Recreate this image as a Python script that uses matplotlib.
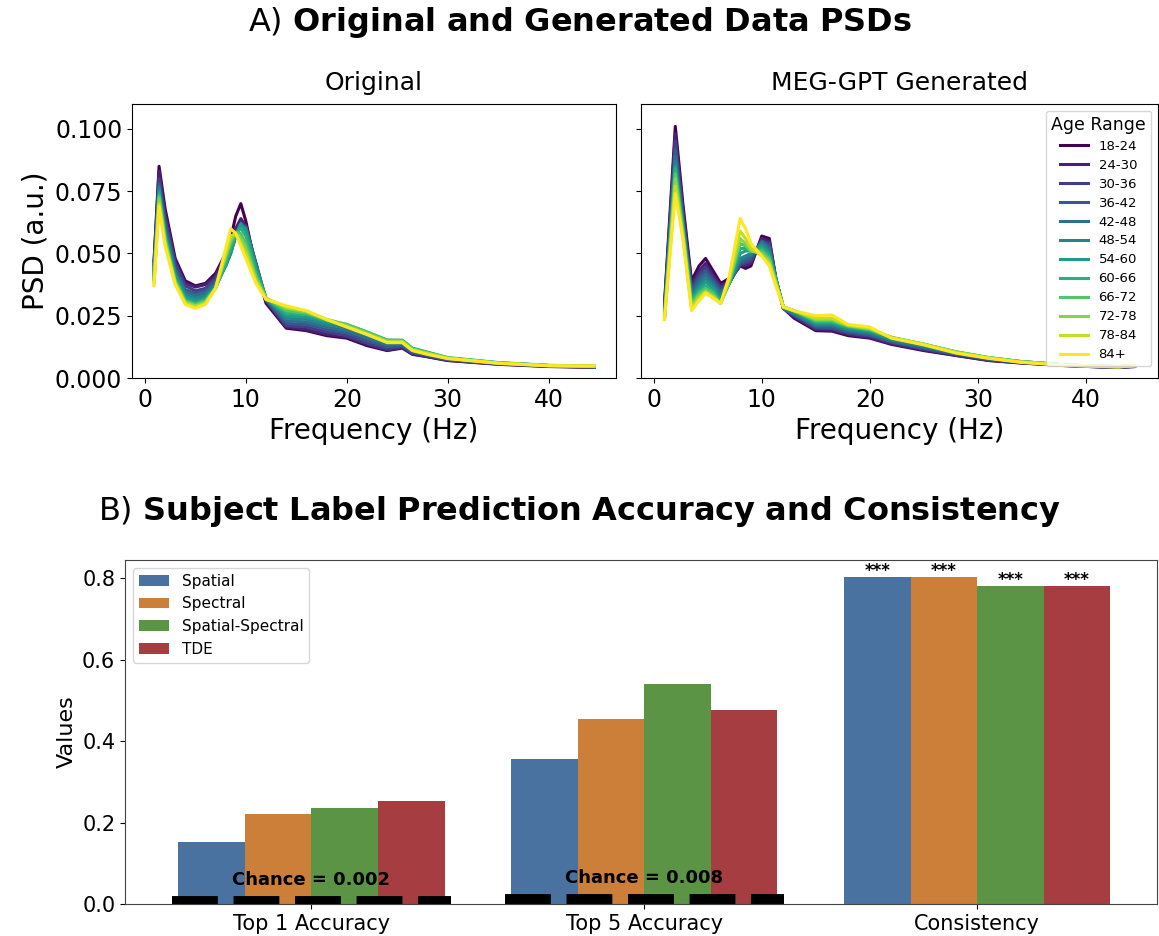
import numpy as np
import matplotlib
matplotlib.use("Agg")
import matplotlib.pyplot as plt

# ---- panel A data (PSD values in units of 1e-3) ----
ages = ["18-24", "24-30", "30-36", "36-42", "42-48", "48-54",
        "54-60", "60-66", "66-72", "72-78", "78-84", "84+"]

freq_orig = [0.9, 1.4, 2, 3, 4, 5, 6, 7, 8, 8.5, 9, 9.5, 10, 11, 12, 14,
             16, 18, 20, 22, 24, 25.5, 26.5, 28, 30, 35, 40, 44.5]

psd_orig = [
    [47, 85, 68, 48, 39, 37, 38, 42, 50, 56, 65, 70, 63, 44, 30, 20, 19, 17, 16, 13, 11, 12, 9.5, 8.5, 7, 5.5, 4.6, 4.3],
    [46, 83, 66, 47, 38, 36.5, 37.5, 41, 49, 54, 60, 64, 61, 45, 31, 20.5, 19.5, 17.5, 16.5, 13.5, 11.2, 12.2, 9.7, 8.6, 7.1, 5.6, 4.7, 4.3],
    [45, 80, 64, 46, 37, 35, 36, 40, 47, 52, 58, 62, 61, 46, 31, 21, 20.5, 18.5, 17, 14, 11.8, 12.6, 10, 8.8, 7.3, 5.7, 4.8, 4.4],
    [44, 78, 62, 44, 35.5, 34, 35, 39, 46, 51, 57, 61, 60.5, 46, 31.5, 22, 21.5, 19.5, 18, 15, 12.5, 13, 10.3, 9, 7.4, 5.8, 4.8, 4.4],
    [43, 77, 60, 43, 34.5, 33, 34, 38, 45, 50, 57, 61, 60, 46, 31.5, 23, 22.5, 20.5, 19, 16, 13.3, 13.5, 10.8, 9.4, 7.6, 5.9, 4.9, 4.5],
    [42, 76, 59, 42, 33.5, 32, 33, 37, 45, 50, 57, 61.5, 60, 45, 32, 24, 23.5, 21.5, 20, 17, 14, 14, 11.3, 9.8, 7.8, 6, 5, 4.6],
    [41, 75, 58, 41, 32.5, 31, 32, 36.5, 45, 51, 57.5, 62, 59, 44, 32, 25, 24.5, 22.5, 21, 18, 15, 15, 11.8, 10.2, 8, 6.1, 5, 4.6],
    [40, 74, 57, 40, 31.5, 30, 31.5, 36, 46, 52, 58, 60, 57, 43, 32, 26, 25.5, 23, 21.5, 18.5, 15.3, 15.2, 12, 10.4, 8.2, 6.2, 5.1, 4.7],
    [39.5, 73, 56, 39, 31, 29.5, 31, 36, 48, 54, 58.5, 58, 54, 41, 32, 27, 26, 23.5, 21.5, 18.5, 15, 15, 11.8, 10.2, 8.1, 6.1, 5, 4.7],
    [39, 72, 55, 38.5, 30.5, 29, 30.5, 36, 49, 55.5, 58, 56, 52, 40, 32, 28, 26.5, 23.5, 21, 18, 14.8, 14.7, 11.5, 10, 8, 6, 5, 4.7],
    [38, 70, 54, 38, 30, 28.5, 30, 36, 50, 57, 58, 54, 50, 39, 32, 28.5, 27, 23.5, 20.5, 17.5, 14.5, 14.5, 11.2, 9.7, 7.9, 6, 5, 4.8],
    [37, 69, 53, 37.5, 29.5, 28, 29.5, 36, 52, 60, 58, 53, 48, 38, 31.5, 29, 27, 23.5, 20.5, 17.5, 14.2, 14.2, 11, 9.5, 7.8, 5.9, 4.9, 4.8],
]

freq_gen = [1, 2, 2.7, 3.5, 4.2, 4.8, 5.5, 6.2, 7, 8, 8.5, 9, 10, 10.7, 11.3,
            12, 13, 15, 16.5, 18, 20, 22, 25, 28, 31, 34, 38, 41, 43, 44.5]

psd_gen = [
    [30, 101, 70, 39, 45, 48, 43, 38, 40, 45, 44, 45, 57, 56, 40, 28, 24, 19, 18.8, 17, 16, 13.5, 11, 9, 7, 6, 5, 4.5, 4.2, 4.6],
    [29, 98, 68, 37.5, 43, 46, 41.5, 37, 39, 45, 45, 46, 56, 55, 40, 28, 24.5, 19.5, 19.2, 17.5, 16.3, 13.8, 11.3, 9.1, 7.1, 6.1, 5, 4.5, 4.3, 4.6],
    [28, 95, 66, 36, 41.5, 44.5, 40, 36, 38.5, 45.5, 46, 47, 55, 54, 40, 28, 25, 20, 19.8, 18, 16.8, 14.2, 11.6, 9.3, 7.3, 6.2, 5.1, 4.6, 4.4, 4.7],
    [27, 92, 64, 35, 40, 43, 39, 35, 38, 46, 47, 48, 55, 53, 40, 28, 25.5, 20.5, 20.3, 18.5, 17.3, 14.6, 12, 9.6, 7.5, 6.3, 5.1, 4.6, 4.4, 4.7],
    [26, 89, 63, 34, 38.5, 41.5, 38, 34, 38, 47, 48, 49, 54.5, 52, 40, 28, 25.5, 21, 21, 19, 17.8, 15, 12.4, 9.8, 7.7, 6.4, 5.2, 4.7, 4.5, 4.8],
    [25.5, 87, 62, 33, 37, 40, 37, 33, 38, 48, 49, 50, 54, 51, 40, 28, 26, 21.5, 21.5, 19.5, 18.3, 15.4, 12.8, 10, 7.9, 6.5, 5.2, 4.7, 4.5, 4.8],
    [25, 85, 61, 32, 36, 38.5, 36, 31.5, 38, 50, 51, 51, 53, 50, 40, 28.5, 26.5, 22, 22, 20, 18.8, 15.8, 13.2, 10.3, 8, 6.6, 5.3, 4.8, 4.6, 4.8],
    [24.5, 84, 60, 31, 35, 37, 35, 30.5, 38, 52, 52, 51, 52, 49, 39.5, 28.5, 27, 22.5, 22.5, 20.5, 19.2, 16.2, 13.5, 10.5, 8.2, 6.6, 5.3, 4.8, 4.6, 4.9],
    [24, 82, 59, 30, 34, 36, 34, 30, 38.5, 54, 53, 51, 51, 48, 39, 28.5, 27, 23, 23, 20.8, 19.5, 16.3, 13.6, 10.5, 8.2, 6.6, 5.3, 4.8, 4.6, 4.9],
    [24, 80, 58, 29, 33, 35, 33, 30, 39, 56, 54, 51, 50, 47, 38.5, 28.5, 27, 23.5, 23.5, 21, 19.8, 16.3, 13.6, 10.4, 8.1, 6.5, 5.2, 4.8, 4.6, 4.9],
    [23.5, 77, 57, 28, 32, 34.5, 32.5, 30, 40, 59, 56, 52, 49, 46, 38, 28.5, 27, 24, 24, 21.2, 20, 16.2, 13.5, 10.2, 8, 6.4, 5.2, 4.7, 4.5, 4.9],
    [23.5, 74, 56, 27, 31, 34, 32, 30, 41, 64, 60, 54, 49, 45, 37, 28.5, 27, 25, 25.3, 21.5, 20.5, 16, 13.3, 10, 7.9, 6.3, 5.1, 4.7, 4.4, 5],
]

# ---- panel B data ----
categories = ["Top 1 Accuracy", "Top 5 Accuracy", "Consistency"]
models = ["Spatial", "Spectral", "Spatial-Spectral", "TDE"]
values = {
    "Spatial":          [0.153, 0.355, 0.803],
    "Spectral":         [0.222, 0.455, 0.803],
    "Spatial-Spectral": [0.237, 0.540, 0.780],
    "TDE":              [0.254, 0.477, 0.780],
}
chance = [0.002, 0.008]
stars = ["***", "***", "***", "***"]
bar_colors = ["#4a72a0", "#cc7f38", "#5a9444", "#a63d40"]

fig = plt.figure(figsize=(11.59, 9.36), dpi=100)

W, H = 1159, 936
def box(x0, y0, x1, y1):
    return [x0 / W, 1 - y1 / H, (x1 - x0) / W, (y1 - y0) / H]

ax1 = fig.add_axes(box(132, 104, 616, 378))
ax2 = fig.add_axes(box(641, 104, 1158, 378), sharey=ax1)
cols = plt.cm.viridis(np.linspace(0, 1, len(ages)))

for i, a in enumerate(ages):
    ax1.plot(freq_orig, np.array(psd_orig[i]) / 1000, color=cols[i], lw=2.2)
    ax2.plot(freq_gen, np.array(psd_gen[i]) / 1000, color=cols[i], lw=2.2, label=a)

ax1.set_ylim(0, 0.11)
ax1.set_yticks([0, 0.025, 0.05, 0.075, 0.1])
for ax in (ax1, ax2):
    ax.set_xticks([0, 10, 20, 30, 40])
    ax.tick_params(labelsize=17)
    ax.set_xlabel("Frequency (Hz)", fontsize=20)
ax2.tick_params(labelleft=False)
ax1.set_ylabel("PSD (a.u.)", fontsize=20)
ax1.set_title("Original", fontsize=18, pad=10)
ax2.set_title("MEG-GPT Generated", fontsize=18, pad=10)
leg = ax2.legend(title="Age Range", loc="upper right", fontsize=9.5,
                 title_fontsize=12.5, labelspacing=0.45, handlelength=2.1)

fig.text(0.5, 0.976, r"A) $\bf{Original\ and\ Generated\ Data\ PSDs}$",
         ha="center", va="center", fontsize=23)
fig.text(0.5, 0.453, r"B) $\bf{Subject\ Label\ Prediction\ Accuracy\ and\ Consistency}$",
         ha="center", va="center", fontsize=23)

# ---- panel B ----
ax3 = fig.add_axes(box(125, 560, 1157, 904))
x = np.arange(len(categories))
bw = 0.2
for j, m in enumerate(models):
    pos = x + (j - 1.5) * bw
    ax3.bar(pos, values[m], width=bw, color=bar_colors[j], label=m)
    ax3.text(pos[2], values[m][2] + 0.003, stars[j], ha="center", va="baseline",
             fontsize=12, fontweight="bold")

for k, c in enumerate(chance):
    ax3.plot([x[k] - 0.42, x[k] + 0.42], [c, c], color="black", lw=10,
             dashes=(3.3, 1.13))
    ax3.text(x[k], c + 0.057, f"Chance = {c}", ha="center", va="center",
             fontsize=13, fontweight="bold")

ax3.set_xlim(-0.56, 2.54)
ax3.set_ylim(0, 0.845)
ax3.set_xticks(x)
ax3.set_xticklabels(categories)
ax3.set_yticks([0, 0.2, 0.4, 0.6, 0.8])
ax3.tick_params(labelsize=15)
ax3.set_ylabel("Values", fontsize=16)
for s in ax3.spines.values():
    s.set_color("#444444")
ax3.legend(loc="upper left", fontsize=11)

fig.savefig("out.png", dpi=100)
